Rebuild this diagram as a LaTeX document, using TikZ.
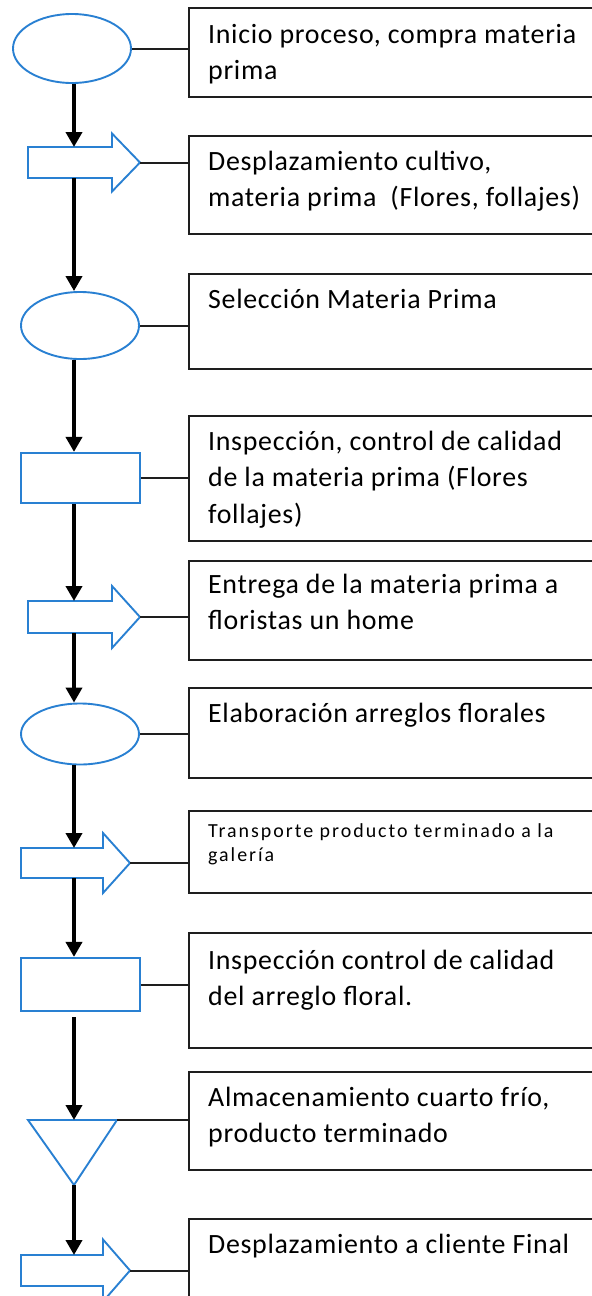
\documentclass[tikz,border=0pt]{standalone}
\usepackage{fontspec}
\setmainfont{Carlito}
\usetikzlibrary{arrows.meta,shapes.geometric}
\definecolor{shapeblue}{RGB}{41,128,210}
\definecolor{boxline}{RGB}{30,30,30}
\newcommand\blockarr[7]{%
  \draw[blockline] (#2,#5-#6) -- (#3,#5-#6) -- (#3,#5-#7) -- (#4,#5) -- (#3,#5+#7) -- (#3,#5+#6) -- (#2,#5+#6) -- cycle;
  \coordinate (#1-n) at (74,#5-#6);
  \coordinate (#1-s) at (74,#5+#6);
  \coordinate (#1-tip) at (#4,#5);}
\begin{document}
\begin{tikzpicture}[x=1bp,y=-1bp,
  flowbox/.style={draw=boxline, line width=2.2bp, minimum width=430bp, anchor=north west, inner sep=0pt},
  label/.style={anchor=north west, inner sep=0pt, align=left, font=\fontsize{28}{37}\selectfont\addfontfeature{LetterSpace=2.5}},
  smalllabel/.style={anchor=north west, inner sep=0pt, align=left, font=\fontsize{20}{24}\selectfont\addfontfeature{LetterSpace=10}},
  oval/.style={ellipse, draw=shapeblue, line width=1.9bp, inner sep=0pt, minimum width=118bp},
  procbox/.style={rectangle, draw=shapeblue, line width=2.2bp, minimum width=119bp, inner sep=0pt},
  blockline/.style={draw=shapeblue, line width=1.9bp, line join=miter},
  flow/.style={line width=3.8bp, -{Triangle[width=16bp,length=15bp]}},
  link/.style={line width=2bp, draw=boxline}]
\useasboundingbox (0,0) rectangle (592,1296);
\clip (0,0) rectangle (592,1296);
\coordinate (ax) at (74,0);

% right-hand description boxes
\node[flowbox, minimum height=89bp] (b1) at (188,7) {};
\node[flowbox, minimum height=98bp] (b2) at (188,135) {};
\node[flowbox, minimum height=95bp] (b3) at (188,273) {};
\node[flowbox, minimum height=125bp] (b4) at (188,415) {};
\node[flowbox, minimum height=99bp] (b5) at (188,560) {};
\node[flowbox, minimum height=90bp] (b6) at (188,687) {};
\node[flowbox, minimum height=82bp] (b7) at (188,810) {};
\node[flowbox, minimum height=115bp] (b8) at (188,932) {};
\node[flowbox, minimum height=98bp] (b9) at (188,1071) {};
\node[flowbox, minimum height=120bp] (b10) at (188,1218) {};

% texts
\node[label] (t1) at (208,17) {\strut Inicio proceso, compra materia\\prima};
\node[label] (t2) at (208,144) {\strut Desplazamiento cultivo,\\materia prima~ (Flores, follajes)};
\node[label] (t3) at (208,282) {\strut Selección Materia Prima};
\node[label] (t4) at (208,424) {\strut Inspección, control de calidad\\de la materia prima (Flores\\follajes)};
\node[label] (t5) at (208,567) {\strut Entrega de la materia prima a\\floristas un home};
\node[label] (t6) at (208,696) {\strut Elaboración arreglos florales};
\node[smalllabel] (t7) at (208,821) {\strut Transporte producto terminado a la\\galería};
\node[label] (t8) at (208,943) {\strut Inspección control de calidad\\del arreglo floral.};
\node[label] (t9) at (208,1080) {\strut Almacenamiento cuarto frío,\\producto terminado};
\node[label] (t10) at (208,1227) {\strut Desplazamiento a cliente Final};

% process symbols
\node[oval, minimum height=69bp] (e1) at (72,48.5) {};
\blockarr{a1}{28}{112}{140}{162.5}{15.5}{29}
\node[oval, minimum height=67bp] (e2) at (80,325.5) {};
\node[procbox, minimum height=50bp] (r1) at (80.5,478) {};
\blockarr{a2}{28}{112}{140}{617}{16}{31}
\node[oval, minimum height=61bp] (e3) at (80,734) {};
\blockarr{a3}{21}{103}{130}{863}{15}{30}
\node[procbox, minimum height=53bp] (r2) at (80.5,984.5) {};
\draw[blockline] (28,1120) -- (117,1120) -- (74,1185) -- cycle;
\coordinate (tri-n) at (74,1120);
\coordinate (tri-e) at (117,1120);
\coordinate (tri-s) at (74,1185);
\blockarr{a4}{21}{103}{130}{1270.5}{15.5}{31}

% horizontal links
\draw[link] (e1.east) -- (e1.east -| b1.west);
\draw[link] (a1-tip) -- (a1-tip -| b2.west);
\draw[link] (e2.east) -- (e2.east -| b3.west);
\draw[link] (r1.east) -- (r1.east -| b4.west);
\draw[link] (a2-tip) -- (a2-tip -| b5.west);
\draw[link] (e3.east) -- (e3.east -| b6.west);
\draw[link] (a3-tip) -- (a3-tip -| b7.west);
\draw[link] (r2.east) -- (r2.east -| b8.west);
\draw[link] (tri-e) -- (tri-e -| b9.west);
\draw[link] (a4-tip) -- (a4-tip -| b10.west);

% vertical flow
\draw[flow] (e1.south -| ax) -- (a1-n);
\draw[flow] (a1-s) -- (e2.north -| ax);
\draw[flow] (e2.south -| ax) -- (r1.north -| ax);
\draw[flow] (r1.south -| ax) -- (a2-n);
\draw[flow] (a2-s) -- (e3.north -| ax);
\draw[flow] (e3.south -| ax) -- (a3-n);
\draw[flow] (a3-s) -- (r2.north -| ax);
\draw[flow, shorten <=5bp] (r2.south -| ax) -- (tri-n);
\draw[flow] (tri-s) -- (a4-n);
\end{tikzpicture}
\end{document}
